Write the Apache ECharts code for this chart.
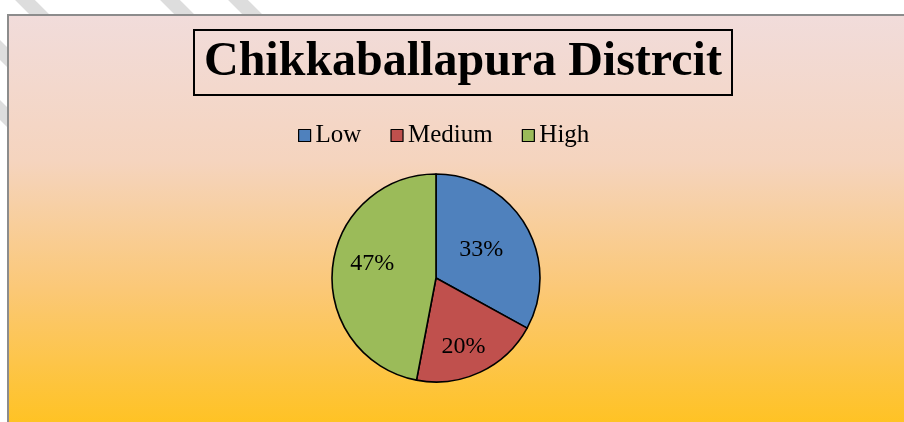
<!DOCTYPE html>
<html><head><meta charset="utf-8">
<script src="https://cdn.jsdelivr.net/npm/echarts@6/dist/echarts.min.js"></script>
<style>html,body{margin:0;padding:0;background:#fff}#c{width:904px;height:422px}</style>
</head><body><div id="c"></div>
<script>
const titleText = 'Chikkaballapura Distrcit';
const categories = ['Low', 'Medium', 'High'];
const values = [33, 20, 47];
const colors = ['#4F81BD', '#C0504D', '#9BBB59'];

const chart = echarts.init(document.getElementById('c'), null, {renderer: 'canvas'});
const serif = '"Liberation Serif", "Times New Roman", serif';
const labelOffsets = [[-2, 0], [4, 19], [-9, -9]];
chart.setOption({
  backgroundColor: '#ffffff',
  animation: false,
  graphic: [
    {type: 'line', z: -20, shape: {x1: 15, y1: -10, x2: 45, y2: 20}, style: {stroke: '#dddddd', lineWidth: 14}},
    {type: 'line', z: -20, shape: {x1: 160, y1: -10, x2: 190, y2: 20}, style: {stroke: '#dddddd', lineWidth: 14}},
    {type: 'line', z: -20, shape: {x1: 228, y1: -10, x2: 258, y2: 20}, style: {stroke: '#dddddd', lineWidth: 14}},
    {type: 'line', z: -20, shape: {x1: -10, y1: 40, x2: 20, y2: 70}, style: {stroke: '#dddddd', lineWidth: 14}},
    {type: 'line', z: -20, shape: {x1: -10, y1: 100, x2: 20, y2: 130}, style: {stroke: '#dddddd', lineWidth: 14}},
    {type: 'rect', z: -10, shape: {x: 8, y: 15, width: 910, height: 420},
      style: {
        fill: new echarts.graphic.LinearGradient(0, 0, 0, 1, [
          {offset: 0, color: '#F1DCDB'},
          {offset: 0.35, color: '#F5D4BE'},
          {offset: 0.65, color: '#FBC877'},
          {offset: 1, color: '#FFC21C'}
        ]),
        stroke: '#8c8c8c', lineWidth: 2
      }}
  ],
  title: {
    text: titleText,
    left: 194,
    top: 30,
    padding: [8, 10, 8, 10],
    borderColor: '#000', borderWidth: 2,
    textStyle: {fontFamily: serif, fontWeight: 'bold', fontSize: 48, color: '#000', lineHeight: 49}
  },
  legend: {
    data: categories,
    top: 118,
    left: 293,
    padding: 5,
    icon: 'rect',
    itemWidth: 12, itemHeight: 12,
    itemGap: 29,
    itemStyle: {borderColor: '#000', borderWidth: 1.2},
    textStyle: {fontFamily: serif, fontSize: 25, color: '#000'}
  },
  series: [{
    type: 'pie',
    center: [436, 278],
    radius: 104,
    startAngle: 90,
    clockwise: true,
    itemStyle: {borderColor: '#000', borderWidth: 1.6},
    label: {show: true, position: 'inside', formatter: '{d}%', fontFamily: serif, fontSize: 24, color: '#000'},
    labelLine: {show: false},
    emphasis: {disabled: true},
    data: categories.map((c, i) => ({name: c, value: values[i], itemStyle: {color: colors[i]}, label: {offset: labelOffsets[i]}}))
  }]
});
</script></body></html>
